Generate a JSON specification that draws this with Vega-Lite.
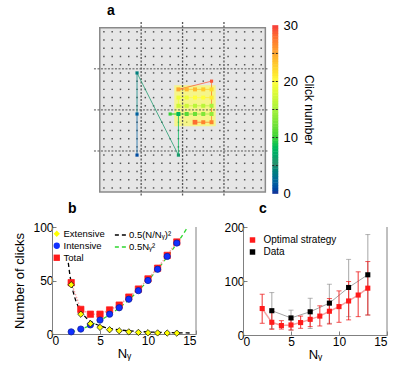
{
  "$schema": "https://vega.github.io/schema/vega-lite/v6.json",
  "padding": {"left": 13, "top": 4, "right": 0, "bottom": 0},
  "config": {
    "font": "Liberation Sans",
    "view": {"stroke": null},
    "axis": {
      "domainColor": "#808080", "tickColor": "#808080", "tickSize": -4,
      "labelFontSize": 12, "labelColor": "#000", "titleFontSize": 13,
      "titleFontWeight": "normal", "titleColor": "#000", "grid": false, "labelPadding": 3
    },
    "title": {"fontSize": 14, "fontWeight": "bold", "anchor": "start", "color": "#000", "frame": "group"},
    "legend": {"labelColor": "#000", "titleColor": "#000"}
  },
  "spacing": 1,
  "resolve": {
    "scale": {"color": "independent", "fill": "independent", "shape": "independent", "stroke": "independent", "size": "independent"},
    "legend": {"color": "independent", "fill": "independent", "shape": "independent", "stroke": "independent", "size": "independent"}
  },
  "vconcat": [
    {
      "width": 226.6,
      "height": 175,
      "title": {"text": "a", "dx": 55, "offset": 1},
      "resolve": {"scale": {"y": "independent"}},
      "layer": [
        {
          "layer": [
            {
              "data": {"values": [{"x0": 0, "x1": 20, "y0": 0, "y1": 20}]},
              "mark": {"type": "rect", "fill": "#e6e6e6", "stroke": "#8a8a8a", "strokeWidth": 1.5},
              "encoding": {
                "x": {"field": "x0", "type": "quantitative", "scale": {"domain": [-5.77, 21.6]}, "axis": null},
                "x2": {"field": "x1"},
                "y": {"field": "y0", "type": "quantitative", "scale": {"domain": [-0.7, 20.6], "reverse": true}, "axis": null},
                "y2": {"field": "y1"}
              }
            },
            {
              "data": {"values": [
                {"r": 0.5, "c": [0.5,1.5,2.5,3.5,4.5,5.5,6.5,7.5,8.5,9.5,10.5,11.5,12.5,13.5,14.5,15.5,16.5,17.5,18.5,19.5]},
                {"r": 1.5, "c": [0.5,1.5,2.5,3.5,4.5,5.5,6.5,7.5,8.5,9.5,10.5,11.5,12.5,13.5,14.5,15.5,16.5,17.5,18.5,19.5]},
                {"r": 2.5, "c": [0.5,1.5,2.5,3.5,4.5,5.5,6.5,7.5,8.5,9.5,10.5,11.5,12.5,13.5,14.5,15.5,16.5,17.5,18.5,19.5]},
                {"r": 3.5, "c": [0.5,1.5,2.5,3.5,4.5,5.5,6.5,7.5,8.5,9.5,10.5,11.5,12.5,13.5,14.5,15.5,16.5,17.5,18.5,19.5]},
                {"r": 4.5, "c": [0.5,1.5,2.5,3.5,4.5,5.5,6.5,7.5,8.5,9.5,10.5,11.5,12.5,13.5,14.5,15.5,16.5,17.5,18.5,19.5]},
                {"r": 5.5, "c": [0.5,1.5,2.5,3.5,4.5,5.5,6.5,7.5,8.5,9.5,10.5,11.5,12.5,13.5,14.5,15.5,16.5,17.5,18.5,19.5]},
                {"r": 6.5, "c": [0.5,1.5,2.5,3.5,4.5,5.5,6.5,7.5,8.5,9.5,10.5,11.5,12.5,13.5,14.5,15.5,16.5,17.5,18.5,19.5]},
                {"r": 7.5, "c": [0.5,1.5,2.5,3.5,4.5,5.5,6.5,7.5,8.5,9.5,10.5,11.5,12.5,13.5,14.5,15.5,16.5,17.5,18.5,19.5]},
                {"r": 8.5, "c": [0.5,1.5,2.5,3.5,4.5,5.5,6.5,7.5,8.5,9.5,10.5,11.5,12.5,13.5,14.5,15.5,16.5,17.5,18.5,19.5]},
                {"r": 9.5, "c": [0.5,1.5,2.5,3.5,4.5,5.5,6.5,7.5,8.5,9.5,10.5,11.5,12.5,13.5,14.5,15.5,16.5,17.5,18.5,19.5]},
                {"r": 10.5, "c": [0.5,1.5,2.5,3.5,4.5,5.5,6.5,7.5,8.5,9.5,10.5,11.5,12.5,13.5,14.5,15.5,16.5,17.5,18.5,19.5]},
                {"r": 11.5, "c": [0.5,1.5,2.5,3.5,4.5,5.5,6.5,7.5,8.5,9.5,10.5,11.5,12.5,13.5,14.5,15.5,16.5,17.5,18.5,19.5]},
                {"r": 12.5, "c": [0.5,1.5,2.5,3.5,4.5,5.5,6.5,7.5,8.5,9.5,10.5,11.5,12.5,13.5,14.5,15.5,16.5,17.5,18.5,19.5]},
                {"r": 13.5, "c": [0.5,1.5,2.5,3.5,4.5,5.5,6.5,7.5,8.5,9.5,10.5,11.5,12.5,13.5,14.5,15.5,16.5,17.5,18.5,19.5]},
                {"r": 14.5, "c": [0.5,1.5,2.5,3.5,4.5,5.5,6.5,7.5,8.5,9.5,10.5,11.5,12.5,13.5,14.5,15.5,16.5,17.5,18.5,19.5]},
                {"r": 15.5, "c": [0.5,1.5,2.5,3.5,4.5,5.5,6.5,7.5,8.5,9.5,10.5,11.5,12.5,13.5,14.5,15.5,16.5,17.5,18.5,19.5]},
                {"r": 16.5, "c": [0.5,1.5,2.5,3.5,4.5,5.5,6.5,7.5,8.5,9.5,10.5,11.5,12.5,13.5,14.5,15.5,16.5,17.5,18.5,19.5]},
                {"r": 17.5, "c": [0.5,1.5,2.5,3.5,4.5,5.5,6.5,7.5,8.5,9.5,10.5,11.5,12.5,13.5,14.5,15.5,16.5,17.5,18.5,19.5]},
                {"r": 18.5, "c": [0.5,1.5,2.5,3.5,4.5,5.5,6.5,7.5,8.5,9.5,10.5,11.5,12.5,13.5,14.5,15.5,16.5,17.5,18.5,19.5]},
                {"r": 19.5, "c": [0.5,1.5,2.5,3.5,4.5,5.5,6.5,7.5,8.5,9.5,10.5,11.5,12.5,13.5,14.5,15.5,16.5,17.5,18.5,19.5]}
              ]},
              "transform": [{"flatten": ["c"]}],
              "mark": {"type": "square", "size": 2.2, "color": "#555", "opacity": 1},
              "encoding": {
                "x": {"field": "c", "type": "quantitative", "scale": {"domain": [-5.77, 21.6]}},
                "y": {"field": "r", "type": "quantitative", "scale": {"domain": [-0.7, 20.6], "reverse": true}}
              }
            },
            {
              "data": {"values": [{"x0": 9, "x1": 14, "y0": 7, "y1": 12}]},
              "mark": {"type": "rect", "fill": "#ffff4d", "opacity": 0.6},
              "encoding": {
                "x": {"field": "x0", "type": "quantitative", "scale": {"domain": [-5.77, 21.6]}},
                "x2": {"field": "x1"},
                "y": {"field": "y0", "type": "quantitative", "scale": {"domain": [-0.7, 20.6], "reverse": true}},
                "y2": {"field": "y1"}
              }
            },
            {
              "data": {"values": [{"g": 5}, {"g": 10}, {"g": 15}]},
              "mark": {"type": "rule", "color": "#555", "strokeDash": [2, 1.5], "strokeWidth": 1.3},
              "encoding": {"x": {"field": "g", "type": "quantitative", "scale": {"domain": [-5.77, 21.6]}}}
            },
            {
              "data": {"values": [{"g": 5}, {"g": 10}, {"g": 15}]},
              "mark": {"type": "rule", "color": "#555", "strokeDash": [2, 1.5], "strokeWidth": 1},
              "encoding": {
                "y": {"field": "g", "type": "quantitative", "scale": {"domain": [-0.7, 20.6], "reverse": true}},
                "x": {"datum": -0.7, "type": "quantitative", "scale": {"domain": [-5.77, 21.6]}},
                "x2": {"datum": 20.4}
              }
            },
            {
              "data": {"name": "clicksSeg", "values": [
                {"n": 1, "x": 4.5, "y": 15.5, "click": 1, "kind": "path"},
                {"n": 2, "x": 4.5, "y": 10.5, "click": 2, "kind": "path"},
                {"n": 3, "x": 4.5, "y": 5.5, "click": 4, "kind": "path"},
                {"n": 4, "x": 9.5, "y": 15.5, "click": 6, "kind": "path"},
                {"n": 5, "x": 9.5, "y": 10.5, "click": 8, "kind": "grid"},
                {"n": 6, "x": 8.5, "y": 10.5, "click": 10, "kind": "path"},
                {"n": 7, "x": 10.5, "y": 10.5, "click": 11, "kind": "grid"},
                {"n": 8, "x": 11.5, "y": 10.5, "click": 12, "kind": "grid"},
                {"n": 9, "x": 12.5, "y": 10.5, "click": 13, "kind": "grid"},
                {"n": 10, "x": 13.5, "y": 10.5, "click": 14, "kind": "grid"},
                {"n": 11, "x": 13.5, "y": 9.5, "click": 15, "kind": "grid"},
                {"n": 12, "x": 12.5, "y": 9.5, "click": 16, "kind": "grid"},
                {"n": 13, "x": 11.5, "y": 9.5, "click": 16, "kind": "grid"},
                {"n": 14, "x": 10.5, "y": 9.5, "click": 17, "kind": "grid"},
                {"n": 15, "x": 9.5, "y": 9.5, "click": 17, "kind": "grid"},
                {"n": 16, "x": 9.5, "y": 8.5, "click": 19, "kind": "grid"},
                {"n": 17, "x": 10.5, "y": 8.5, "click": 19, "kind": "grid"},
                {"n": 18, "x": 11.5, "y": 8.5, "click": 20, "kind": "grid"},
                {"n": 19, "x": 12.5, "y": 8.5, "click": 20, "kind": "grid"},
                {"n": 20, "x": 13.5, "y": 8.5, "click": 21, "kind": "grid"},
                {"n": 21, "x": 13.5, "y": 7.5, "click": 22, "kind": "grid"},
                {"n": 22, "x": 12.5, "y": 7.5, "click": 23, "kind": "grid"},
                {"n": 23, "x": 11.5, "y": 7.5, "click": 24, "kind": "grid"},
                {"n": 24, "x": 10.5, "y": 7.5, "click": 24, "kind": "grid"},
                {"n": 25, "x": 9.5, "y": 7.5, "click": 25, "kind": "grid"},
                {"n": 26, "x": 13.5, "y": 6.5, "click": 29, "kind": "path"},
                {"n": 27, "x": 13.5, "y": 11.5, "click": 27, "kind": "grid"},
                {"n": 28, "x": 12.5, "y": 11.5, "click": 27, "kind": "grid"},
                {"n": 29, "x": 11.5, "y": 11.5, "click": 28, "kind": "target"}
              ]},
              "transform": [
                {"window": [{"op": "lag", "field": "x", "as": "px"}, {"op": "lag", "field": "y", "as": "py"}], "sort": [{"field": "n"}]},
                {"filter": "datum.px != null"}
              ],
              "mark": {"type": "rule", "strokeWidth": 1, "opacity": 0.75},
              "encoding": {
                "x": {"field": "px", "type": "quantitative", "scale": {"domain": [-5.77, 21.6]}},
                "y": {"field": "py", "type": "quantitative", "scale": {"domain": [-0.7, 20.6], "reverse": true}},
                "x2": {"field": "x"},
                "y2": {"field": "y"},
                "stroke": {"field": "click", "type": "quantitative", "legend": null,
                           "scale": {"type": "linear", "domain": [0, 5, 10, 15, 20, 25, 30],
                                     "range": ["#2c2f94", "#2e8b6e", "#36d236", "#a6f23c", "#ffff3c", "#ffa830", "#f63c3c"]}}
              }
            },
            {
              "data": {"name": "clicksSeg"},
              "mark": {"type": "square", "filled": true, "opacity": 1},
              "encoding": {
                "x": {"field": "x", "type": "quantitative", "scale": {"domain": [-5.77, 21.6]}},
                "y": {"field": "y", "type": "quantitative", "scale": {"domain": [-0.7, 20.6], "reverse": true}},
                "size": {"field": "kind", "type": "nominal", "scale": {"domain": ["path", "grid", "target"], "range": [10, 22, 45]}, "legend": null},
                "color": {
                  "field": "click", "type": "quantitative", "legend": null,
                  "scale": {"type": "linear", "domain": [0, 5, 10, 15, 20, 25, 30],
                            "range": ["#2c2f94", "#2e8b6e", "#36d236", "#a6f23c", "#ffff3c", "#ffa830", "#f63c3c"]}
                }
              }
            }
          ]
        },
        {
          "layer": [
            {
              "data": {"values": [{"v": [0.25,0.75,1.25,1.75,2.25,2.75,3.25,3.75,4.25,4.75,5.25,5.75,6.25,6.75,7.25,7.75,8.25,8.75,9.25,9.75,10.25,10.75,11.25,11.75,12.25,12.75,13.25,13.75,14.25,14.75,15.25,15.75,16.25,16.75,17.25,17.75,18.25,18.75,19.25,19.75,20.25,20.75,21.25,21.75,22.25,22.75,23.25,23.75,24.25,24.75,25.25,25.75,26.25,26.75,27.25,27.75,28.25,28.75,29.25,29.75]}]},
              "transform": [{"flatten": ["v"]}],
              "mark": {"type": "tick", "orient": "horizontal", "size": 6, "thickness": 3.2, "opacity": 1},
              "encoding": {
                "x": {"datum": 21.2, "type": "quantitative", "scale": {"domain": [-5.77, 21.6]}},
                "y": {"field": "v", "type": "quantitative", "scale": {"domain": [-0.6, 30.6]},
                      "axis": {"orient": "right", "values": [0, 5, 10, 15, 20, 25, 30], "domain": false, "ticks": false,
                               "labelPadding": 4.5, "labelFontSize": 13, "title": "Click number", "titleFontSize": 12,
                               "titleAngle": 90, "titlePadding": 4}},
                "color": {
                  "field": "v", "type": "quantitative", "legend": null,
                  "scale": {"type": "linear", "domain": [0, 5, 10, 15, 20, 25, 30],
                            "range": ["#2c2f94", "#2e8b6e", "#36d236", "#a6f23c", "#ffff3c", "#ffa830", "#f63c3c"]}
                }
              }
            },
            {
              "data": {"values": [{"t": 5}, {"t": 10}, {"t": 15}, {"t": 20}, {"t": 25}]},
              "mark": {"type": "rule", "color": "#222", "strokeDash": [2, 1.5], "strokeWidth": 1},
              "encoding": {
                "x": {"datum": 20.84, "type": "quantitative", "scale": {"domain": [-5.77, 21.6]}},
                "x2": {"datum": 21.56},
                "y": {"field": "t", "type": "quantitative", "scale": {"domain": [-0.6, 30.6]}}
              }
            }
          ]
        }
      ]
    },
    {
      "spacing": 26,
      "resolve": {
        "scale": {"color": "independent", "fill": "independent", "shape": "independent", "stroke": "independent", "size": "independent"},
        "legend": {"color": "independent", "fill": "independent", "shape": "independent", "stroke": "independent", "size": "independent"}
      },
      "hconcat": [
        {
          "width": 144,
          "height": 107,
          "title": {"text": "b", "dx": 16, "offset": 5},
          "layer": [
            {
              "data": {"values": [{"e": 15}]},
              "mark": {"type": "rule", "color": "#808080"},
              "encoding": {"x": {"field": "e", "type": "quantitative", "scale": {"domain": [0, 15]},
                                 "axis": {"values": [0, 5, 10, 15], "title": "Nᵧ", "titlePadding": 1, "labelPadding": 5}}}
            },
            {
              "data": {"values": [
                {"Ny": 1.7, "v": 66.4, "curve": "0.5(N/Nᵧ)²"}, {"Ny": 1.8, "v": 59.3, "curve": "0.5(N/Nᵧ)²"},
                {"Ny": 1.9, "v": 53.2, "curve": "0.5(N/Nᵧ)²"}, {"Ny": 2, "v": 48, "curve": "0.5(N/Nᵧ)²"},
                {"Ny": 2.2, "v": 39.7, "curve": "0.5(N/Nᵧ)²"}, {"Ny": 2.4, "v": 33.3, "curve": "0.5(N/Nᵧ)²"},
                {"Ny": 2.6, "v": 28.4, "curve": "0.5(N/Nᵧ)²"}, {"Ny": 2.8, "v": 24.5, "curve": "0.5(N/Nᵧ)²"},
                {"Ny": 3, "v": 21.3, "curve": "0.5(N/Nᵧ)²"}, {"Ny": 3.3, "v": 17.6, "curve": "0.5(N/Nᵧ)²"},
                {"Ny": 3.6, "v": 14.8, "curve": "0.5(N/Nᵧ)²"}, {"Ny": 4, "v": 12, "curve": "0.5(N/Nᵧ)²"},
                {"Ny": 4.5, "v": 9.5, "curve": "0.5(N/Nᵧ)²"}, {"Ny": 5, "v": 7.7, "curve": "0.5(N/Nᵧ)²"},
                {"Ny": 5.5, "v": 6.3, "curve": "0.5(N/Nᵧ)²"}, {"Ny": 6, "v": 5.3, "curve": "0.5(N/Nᵧ)²"},
                {"Ny": 7, "v": 3.9, "curve": "0.5(N/Nᵧ)²"}, {"Ny": 8, "v": 3, "curve": "0.5(N/Nᵧ)²"},
                {"Ny": 9, "v": 2.4, "curve": "0.5(N/Nᵧ)²"}, {"Ny": 10, "v": 1.9, "curve": "0.5(N/Nᵧ)²"},
                {"Ny": 11, "v": 1.6, "curve": "0.5(N/Nᵧ)²"}, {"Ny": 12, "v": 1.3, "curve": "0.5(N/Nᵧ)²"},
                {"Ny": 13, "v": 1.1, "curve": "0.5(N/Nᵧ)²"}, {"Ny": 14, "v": 1.0, "curve": "0.5(N/Nᵧ)²"},
                {"Ny": 14.6, "v": 0.9, "curve": "0.5(N/Nᵧ)²"},
                {"Ny": 2, "v": 2, "curve": "0.5Nᵧ²"}, {"Ny": 2.5, "v": 3.1, "curve": "0.5Nᵧ²"},
                {"Ny": 3, "v": 4.5, "curve": "0.5Nᵧ²"}, {"Ny": 3.5, "v": 6.1, "curve": "0.5Nᵧ²"},
                {"Ny": 4, "v": 8, "curve": "0.5Nᵧ²"}, {"Ny": 5, "v": 12.5, "curve": "0.5Nᵧ²"},
                {"Ny": 6, "v": 18, "curve": "0.5Nᵧ²"}, {"Ny": 7, "v": 24.5, "curve": "0.5Nᵧ²"},
                {"Ny": 8, "v": 32, "curve": "0.5Nᵧ²"}, {"Ny": 9, "v": 40.5, "curve": "0.5Nᵧ²"},
                {"Ny": 10, "v": 50, "curve": "0.5Nᵧ²"}, {"Ny": 11, "v": 60.5, "curve": "0.5Nᵧ²"},
                {"Ny": 12, "v": 72, "curve": "0.5Nᵧ²"}, {"Ny": 13, "v": 84.5, "curve": "0.5Nᵧ²"},
                {"Ny": 13.5, "v": 91.1, "curve": "0.5Nᵧ²"}, {"Ny": 14.14, "v": 100, "curve": "0.5Nᵧ²"}
              ]},
              "mark": {"type": "line", "strokeDash": [4, 3], "strokeWidth": 1.3, "interpolate": "monotone"},
              "encoding": {
                "x": {"field": "Ny", "type": "quantitative", "scale": {"domain": [0, 15]}},
                "y": {"field": "v", "type": "quantitative", "scale": {"domain": [0, 100]},
                      "axis": {"values": [0, 25, 50, 75, 100], "labelExpr": "datum.value % 50 === 0 ? datum.label : ''",
                               "title": "Number of clicks", "titlePadding": 6}},
                "stroke": {"field": "curve", "type": "nominal",
                           "scale": {"domain": ["0.5(N/Nᵧ)²", "0.5Nᵧ²"], "range": ["#000000", "#2fd62f"]},
                           "legend": {"orient": "none", "legendX": 62, "legendY": 1, "title": null,
                                      "symbolType": "stroke", "symbolSize": 150, "symbolStrokeWidth": 1.3,
                                      "symbolDash": [4, 3], "labelFontSize": 9.5, "labelOffset": 1, "rowPadding": 0}}
              }
            },
            {
              "data": {"values": [
                {"Ny": 2, "Total": 48}, {"Ny": 3, "Total": 23}, {"Ny": 4, "Total": 18.5}, {"Ny": 5, "Total": 18.5},
                {"Ny": 6, "Total": 22.5}, {"Ny": 7, "Total": 27}, {"Ny": 8, "Total": 34.5}, {"Ny": 9, "Total": 42},
                {"Ny": 10, "Total": 51.5}, {"Ny": 11, "Total": 61.5}, {"Ny": 12, "Total": 73.5}, {"Ny": 13, "Total": 86}
              ]},
              "mark": {"type": "line", "color": "#f6a3a3", "strokeDash": [1.5, 1.5], "strokeWidth": 1.5},
              "encoding": {
                "x": {"field": "Ny", "type": "quantitative", "scale": {"domain": [0, 15]}},
                "y": {"field": "Total", "type": "quantitative", "scale": {"domain": [0, 100]}}
              }
            },
            {
              "data": {"values": [
                {"Ny": 2, "Extensive": 46, "Intensive": 2, "Total": 48},
                {"Ny": 3, "Extensive": 18.5, "Intensive": 4.6, "Total": 23},
                {"Ny": 4, "Extensive": 9.6, "Intensive": 8.5, "Total": 18.5},
                {"Ny": 5, "Extensive": 6.2, "Intensive": 13, "Total": 18.5},
                {"Ny": 6, "Extensive": 4, "Intensive": 18.5, "Total": 22.5},
                {"Ny": 7, "Extensive": 3, "Intensive": 24.5, "Total": 27},
                {"Ny": 8, "Extensive": 2, "Intensive": 32.5, "Total": 34.5},
                {"Ny": 9, "Extensive": 1.5, "Intensive": 40.5, "Total": 42},
                {"Ny": 10, "Extensive": 1.2, "Intensive": 50, "Total": 51.5},
                {"Ny": 11, "Extensive": 1, "Intensive": 60.5, "Total": 61.5},
                {"Ny": 12, "Extensive": 0.9, "Intensive": 72.5, "Total": 73.5},
                {"Ny": 13, "Extensive": 0.8, "Intensive": 85, "Total": 86}
              ]},
              "transform": [{"fold": ["Extensive", "Intensive", "Total"], "as": ["series", "clicks"]}],
              "mark": {"type": "point", "filled": true, "size": 40, "opacity": 1, "strokeWidth": 0.7},
              "encoding": {
                "x": {"field": "Ny", "type": "quantitative", "scale": {"domain": [0, 15]}},
                "y": {"field": "clicks", "type": "quantitative", "scale": {"domain": [0, 100]}},
                "fill": {"field": "series", "type": "nominal",
                         "scale": {"domain": ["Extensive", "Intensive", "Total"], "range": ["#ffff00", "#1030ff", "#ff1a1a"]},
                         "legend": {"orient": "none", "legendX": 0, "legendY": 2, "title": null,
                                    "labelFontSize": 9.5, "labelOffset": 2, "rowPadding": 1, "symbolSize": 40,
                                    "symbolStrokeColor": "#333", "symbolStrokeWidth": 0.6}},
                "shape": {"field": "series", "type": "nominal",
                          "scale": {"domain": ["Extensive", "Intensive", "Total"], "range": ["diamond", "circle", "square"]},
                          "legend": {"orient": "none", "legendX": 0, "legendY": 2, "title": null,
                                     "labelFontSize": 9.5, "labelOffset": 2, "rowPadding": 1, "symbolSize": 40,
                                     "symbolStrokeColor": "#333", "symbolStrokeWidth": 0.6}},
                "stroke": {"condition": [{"test": "datum.series === 'Extensive'", "value": "#000000"},
                                         {"test": "datum.series === 'Intensive'", "value": "#0a1a9a"}],
                           "value": "#ff1a1a"},
                "order": {"field": "series", "sort": "descending"}
              }
            }
          ]
        },
        {
          "width": 144,
          "height": 108,
          "title": {"text": "c", "dx": 16, "offset": 5},
          "data": {"values": [
            {"Ny": 2, "series": "Optimal strategy", "clicks": 49, "lo": 21.7, "hi": 75.5},
            {"Ny": 3, "series": "Optimal strategy", "clicks": 23.5, "lo": 10.5, "hi": 43},
            {"Ny": 4, "series": "Optimal strategy", "clicks": 17.5, "lo": 11, "hi": 26.6},
            {"Ny": 5, "series": "Optimal strategy", "clicks": 18.6, "lo": 9.3, "hi": 29},
            {"Ny": 6, "series": "Optimal strategy", "clicks": 23, "lo": 12.4, "hi": 35},
            {"Ny": 7, "series": "Optimal strategy", "clicks": 29, "lo": 15.5, "hi": 44.6},
            {"Ny": 8, "series": "Optimal strategy", "clicks": 35, "lo": 16.7, "hi": 54},
            {"Ny": 9, "series": "Optimal strategy", "clicks": 44, "lo": 20.4, "hi": 67.5},
            {"Ny": 10, "series": "Optimal strategy", "clicks": 52.6, "lo": 23.5, "hi": 81.7},
            {"Ny": 11, "series": "Optimal strategy", "clicks": 63, "lo": 28, "hi": 99},
            {"Ny": 12, "series": "Optimal strategy", "clicks": 74, "lo": 34, "hi": 117},
            {"Ny": 13, "series": "Optimal strategy", "clicks": 86.7, "lo": 37, "hi": 136},
            {"Ny": 3, "series": "Data", "clicks": 45, "lo": 12, "hi": 78.6},
            {"Ny": 5, "series": "Data", "clicks": 31.6, "lo": 9, "hi": 46},
            {"Ny": 7, "series": "Data", "clicks": 43, "lo": 12, "hi": 68},
            {"Ny": 9, "series": "Data", "clicks": 59, "lo": 21.7, "hi": 94},
            {"Ny": 11, "series": "Data", "clicks": 88, "lo": 34, "hi": 140},
            {"Ny": 13, "series": "Data", "clicks": 111.5, "lo": 37, "hi": 186}
          ]},
          "encoding": {
            "x": {"field": "Ny", "type": "quantitative", "scale": {"domain": [0, 15]},
                  "axis": {"values": [0, 5, 10, 15], "title": "Nᵧ", "titlePadding": 1, "labelPadding": 5}}
          },
          "layer": [
            {
              "data": {"values": [{"e": 15}]},
              "mark": {"type": "rule", "color": "#808080"},
              "encoding": {"x": {"field": "e", "type": "quantitative", "scale": {"domain": [0, 15]}}}
            },
            {
              "transform": [{"filter": "datum.series === 'Data'"}],
              "mark": {"type": "line", "color": "#8c8c8c", "strokeWidth": 0.8},
              "encoding": {
                "y": {"field": "clicks", "type": "quantitative", "scale": {"domain": [0, 200]},
                      "axis": {"values": [0, 50, 100, 150, 200], "labelExpr": "datum.value % 100 === 0 ? datum.label : ''", "title": null}}
              }
            },
            {
              "transform": [{"filter": "datum.series === 'Optimal strategy'"}],
              "mark": {"type": "line", "color": "#f6a3a3", "strokeWidth": 1.5},
              "encoding": {"y": {"field": "clicks", "type": "quantitative", "scale": {"domain": [0, 200]}}}
            },
            {
              "transform": [{"filter": "datum.series === 'Data'"}],
              "mark": {"type": "rule", "color": "#7a7a7a", "opacity": 0.55, "strokeWidth": 1.2},
              "encoding": {"y": {"field": "lo", "type": "quantitative", "scale": {"domain": [0, 200]}}, "y2": {"field": "hi"}}
            },
            {
              "transform": [{"filter": "datum.series === 'Data'"}],
              "mark": {"type": "tick", "orient": "horizontal", "color": "#7a7a7a", "opacity": 0.55, "size": 5, "thickness": 1},
              "encoding": {"y": {"field": "hi", "type": "quantitative", "scale": {"domain": [0, 200]}}}
            },
            {
              "transform": [{"filter": "datum.series === 'Data'"}],
              "mark": {"type": "tick", "orient": "horizontal", "color": "#7a7a7a", "opacity": 0.55, "size": 5, "thickness": 1},
              "encoding": {"y": {"field": "lo", "type": "quantitative", "scale": {"domain": [0, 200]}}}
            },
            {
              "transform": [{"filter": "datum.series === 'Optimal strategy'"}],
              "mark": {"type": "rule", "color": "#ee1c1c", "opacity": 0.75, "strokeWidth": 1.2},
              "encoding": {"y": {"field": "lo", "type": "quantitative", "scale": {"domain": [0, 200]}}, "y2": {"field": "hi"}}
            },
            {
              "transform": [{"filter": "datum.series === 'Optimal strategy'"}],
              "mark": {"type": "tick", "orient": "horizontal", "color": "#ee1c1c", "opacity": 0.75, "size": 5, "thickness": 1},
              "encoding": {"y": {"field": "hi", "type": "quantitative", "scale": {"domain": [0, 200]}}}
            },
            {
              "transform": [{"filter": "datum.series === 'Optimal strategy'"}],
              "mark": {"type": "tick", "orient": "horizontal", "color": "#ee1c1c", "opacity": 0.75, "size": 5, "thickness": 1},
              "encoding": {"y": {"field": "lo", "type": "quantitative", "scale": {"domain": [0, 200]}}}
            },
            {
              "mark": {"type": "point", "filled": true, "opacity": 1, "size": 26, "shape": "square"},
              "encoding": {
                "y": {"field": "clicks", "type": "quantitative", "scale": {"domain": [0, 200]}},
                "fill": {"field": "series", "type": "nominal",
                         "scale": {"domain": ["Optimal strategy", "Data"], "range": ["#ff1a1a", "#000000"]},
                         "legend": {"orient": "none", "legendX": 4.5, "legendY": 8, "title": null, "symbolType": "square",
                                    "labelFontSize": 10, "labelOffset": 6, "rowPadding": 2, "symbolSize": 30, "symbolStrokeWidth": 0}}
              }
            }
          ]
        }
      ]
    }
  ]
}
